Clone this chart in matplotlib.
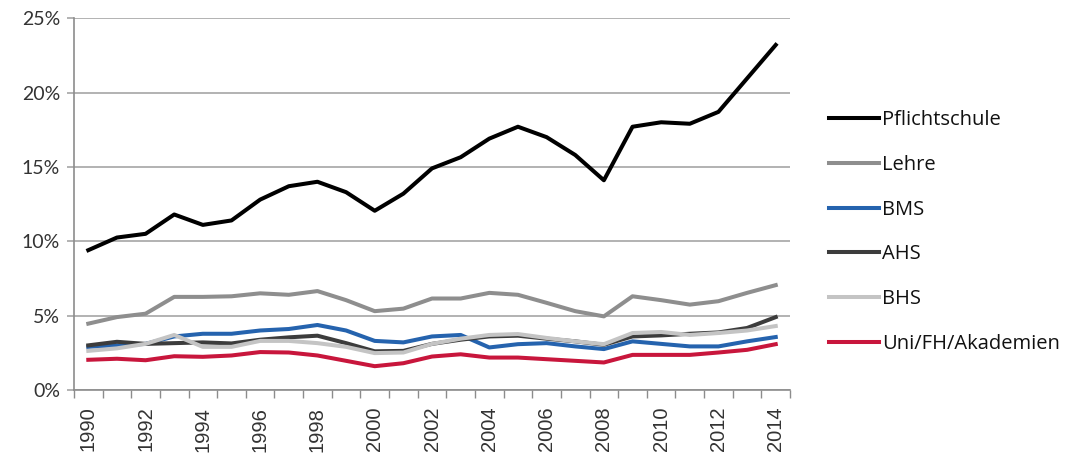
import numpy as np
import matplotlib
matplotlib.use("Agg")
from matplotlib import pyplot as plt
from matplotlib.ticker import FixedLocator, PercentFormatter

years = list(range(1990, 2015))

pflichtschule = [9.4, 10.25, 10.5, 11.8, 11.1, 11.4, 12.8, 13.7, 14.0, 13.3, 12.05, 13.2, 14.9,
                 15.65, 16.9, 17.7, 17.0, 15.8, 14.1, 17.7, 18.0, 17.9, 18.7, 20.95, 23.2]
lehre = [4.46, 4.9, 5.13, 6.26, 6.26, 6.3, 6.5, 6.4, 6.65, 6.04, 5.3, 5.47, 6.15,
         6.15, 6.53, 6.4, 5.86, 5.3, 4.95, 6.3, 6.04, 5.74, 5.97, 6.53, 7.05]
bms = [2.9, 3.0, 3.1, 3.6, 3.78, 3.78, 4.0, 4.1, 4.37, 4.0, 3.3, 3.2, 3.6,
       3.7, 2.86, 3.08, 3.15, 2.93, 2.75, 3.27, 3.1, 2.93, 2.93, 3.27, 3.56]
ahs = [3.0, 3.24, 3.1, 3.15, 3.2, 3.13, 3.38, 3.54, 3.65, 3.15, 2.6, 2.63, 3.1,
       3.38, 3.6, 3.65, 3.45, 3.27, 3.04, 3.6, 3.67, 3.78, 3.87, 4.17, 4.9]
bhs = [2.63, 2.8, 3.1, 3.7, 2.9, 2.9, 3.3, 3.3, 3.15, 2.9, 2.48, 2.52, 3.1,
       3.45, 3.7, 3.76, 3.5, 3.27, 3.08, 3.83, 3.9, 3.7, 3.83, 4.0, 4.3]
uni = [2.03, 2.1, 2.0, 2.27, 2.23, 2.32, 2.55, 2.52, 2.32, 1.96, 1.6, 1.8, 2.25,
       2.4, 2.18, 2.18, 2.07, 1.96, 1.85, 2.36, 2.36, 2.36, 2.52, 2.7, 3.08]

series = [
    ("Pflichtschule", pflichtschule, "#000000"),
    ("Lehre", lehre, "#8e8e8e"),
    ("BMS", bms, "#2563ae"),
    ("AHS", ahs, "#3c3c3c"),
    ("BHS", bhs, "#c4c4c4"),
    ("Uni/FH/Akademien", uni, "#c8163c"),
]

fig = plt.figure(figsize=(10.72, 4.54), dpi=100)
ax = fig.add_axes([0.069, 0.141, 0.668, 0.819])

for name, vals, col in series:
    ax.plot(years, vals, color=col, lw=2.9, label=name, solid_joinstyle="round")

ax.set_xlim(1989.5, 2014.5)
ax.set_ylim(0, 25)
ax.set_yticks([0, 5, 10, 15, 20, 25])
ax.yaxis.set_major_formatter(PercentFormatter(decimals=0))
ax.grid(axis="y", color="#a6a6a6", lw=1.2)
ax.set_axisbelow(True)

ax.set_xticks(years[::2])
ax.set_xticklabels([str(y) for y in years[::2]], rotation=90)
ax.xaxis.set_minor_locator(FixedLocator(np.arange(1989.5, 2015, 1)))
ax.tick_params(axis="x", which="major", length=0, pad=12, labelsize=14.5, labelcolor="#333333")
ax.tick_params(axis="x", which="minor", length=6, color="#8c8c8c", width=1)
ax.tick_params(axis="y", length=5, width=1.2, color="#a6a6a6", pad=5, labelsize=14, labelcolor="#333333")

for s in ["top", "right"]:
    ax.spines[s].set_visible(False)
for s in ["left", "bottom"]:
    ax.spines[s].set_color("#8c8c8c")
    ax.spines[s].set_linewidth(1.2)

for lab in ax.get_xticklabels():
    lab.set_family("Liberation Sans")
for lab in ax.get_yticklabels():
    lab.set_family("Lato")

# legend to the right of the plot, one row per school type
leg = ax.legend(loc="center left", bbox_to_anchor=(1.043, 0.425), borderaxespad=0,
                frameon=False, prop={"family": "Open Sans", "size": 14.5}, labelspacing=1.23,
                handlelength=2.5, handletextpad=0.15)
for t in leg.get_texts():
    t.set_color("#111111")

fig.savefig("out.png", dpi=100)
